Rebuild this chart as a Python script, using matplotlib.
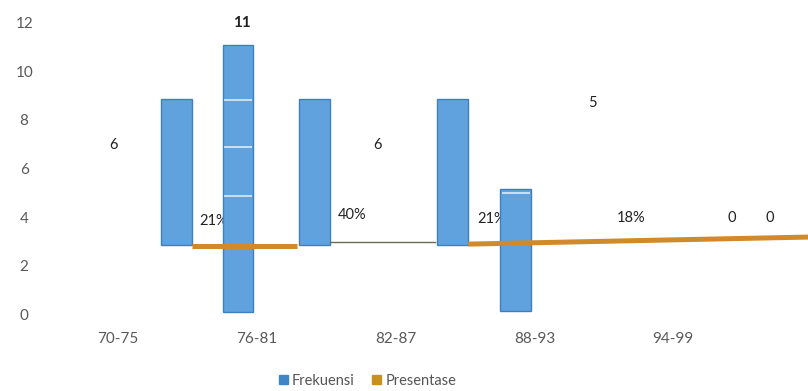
import matplotlib
matplotlib.use("Agg")
import matplotlib.pyplot as plt
from matplotlib.patches import Patch

plt.rcParams['font.family'] = ['Lato', 'DejaVu Sans']

# Categories (score intervals)
categories = ["70-75", "76-81", "82-87", "88-93", "94-99"]

# Frequency bars: position on the category axis, base and height
bar_pos = [0.42, 0.865, 1.415, 2.41, 2.865]
bar_base = [2.85, 0.1, 2.85, 2.85, 0.15]
bar_height = [6, 11, 6, 6, 5]

# Light separators showing through the tall bars
sep_bar = [1, 1, 1, 4]
sep_level = [8.81, 6.88, 4.87, 4.99]

# Percentage line pieces (x start, x end, y start, y end)
pct_x0 = [0.533, 2.522]
pct_x1 = [1.29, 4.97]
pct_y0 = [2.81, 2.89]
pct_y1 = [2.81, 3.18]
thin_x = [1.527, 2.284]
thin_y = [2.98, 2.98]

# Value labels as they sit on the chart
freq_labels = ["6", "11", "6", "5"]
freq_lx = [-0.036, 0.893, 1.866, 3.415]
freq_ly = [6.96, 12.0, 6.96, 8.68]
freq_bold = [False, True, False, False]

pct_labels = ["21%", "40%", "21%", "18%", "0", "0"]
pct_lx = [0.584, 1.686, 2.587, 3.692, 4.421, 4.697]
pct_ly = [3.85, 4.09, 3.91, 3.95, 3.95, 3.95]
pct_ha = ["left", "center", "left", "center", "center", "center"]

yticks = [0, 2, 4, 6, 8, 10, 12]

blue = '#5fa2dd'
blue_edge = '#3f7fbf'
orange = '#d08a2a'

fig = plt.figure(figsize=(8.08, 3.91), dpi=100)
ax = fig.add_axes([45 / 808, 0.1836, 763 / 808, 0.8080])
ax.set_xlim(-0.526, 4.97)
ax.set_ylim(-0.2, 12.8)

width = 0.22
ax.bar(bar_pos, bar_height, width=width, bottom=bar_base,
       color=blue, edgecolor=blue_edge, linewidth=1.0, zorder=3)

for b, lvl in zip(sep_bar, sep_level):
    ax.hlines(lvl, bar_pos[b] - width / 2 + 0.008, bar_pos[b] + width / 2 - 0.008,
              colors='#dcebf8', linewidth=1.2, zorder=4)

for x0, x1, y0, y1 in zip(pct_x0, pct_x1, pct_y0, pct_y1):
    ax.plot([x0, x1], [y0, y1], color=orange, linewidth=3.6,
            solid_capstyle='butt', zorder=5)
ax.plot(thin_x, thin_y, color='#6b6b55', linewidth=1.0, zorder=5)

for t, x, y, bold in zip(freq_labels, freq_lx, freq_ly, freq_bold):
    ax.text(x, y, t, ha='center', va='center', fontsize=10.5 if not bold else 11,
            fontweight='bold' if bold else 'normal', color='#222222', zorder=6)

for t, x, y, ha in zip(pct_labels, pct_lx, pct_ly, pct_ha):
    ax.text(x, y, t, ha=ha, va='center', fontsize=10.5, color='#222222', zorder=2)

ax.set_yticks(yticks)
ax.set_yticklabels([str(v) for v in yticks])
for lbl in ax.get_yticklabels():
    lbl.set_horizontalalignment('center')
ax.set_xticks(range(len(categories)))
ax.set_xticklabels(categories)
ax.tick_params(axis='y', length=0, pad=15, labelsize=11, labelcolor='#595959')
ax.tick_params(axis='x', length=0, pad=9, labelsize=11, labelcolor='#595959')
for s in ax.spines.values():
    s.set_visible(False)

handles = [Patch(facecolor='#3f86c8', edgecolor='#3f86c8'),
           Patch(facecolor='#c8901e', edgecolor='#c8901e')]
fig.legend(handles, ["Frekuensi", "Presentase"], loc='center',
           bbox_to_anchor=(0.455, 0.026), ncol=2, frameon=False,
           fontsize=10.5, handlelength=0.6, handleheight=0.6,
           handletextpad=0.3, columnspacing=1.2, labelcolor='#555555')

fig.savefig("out.png", dpi=100)
